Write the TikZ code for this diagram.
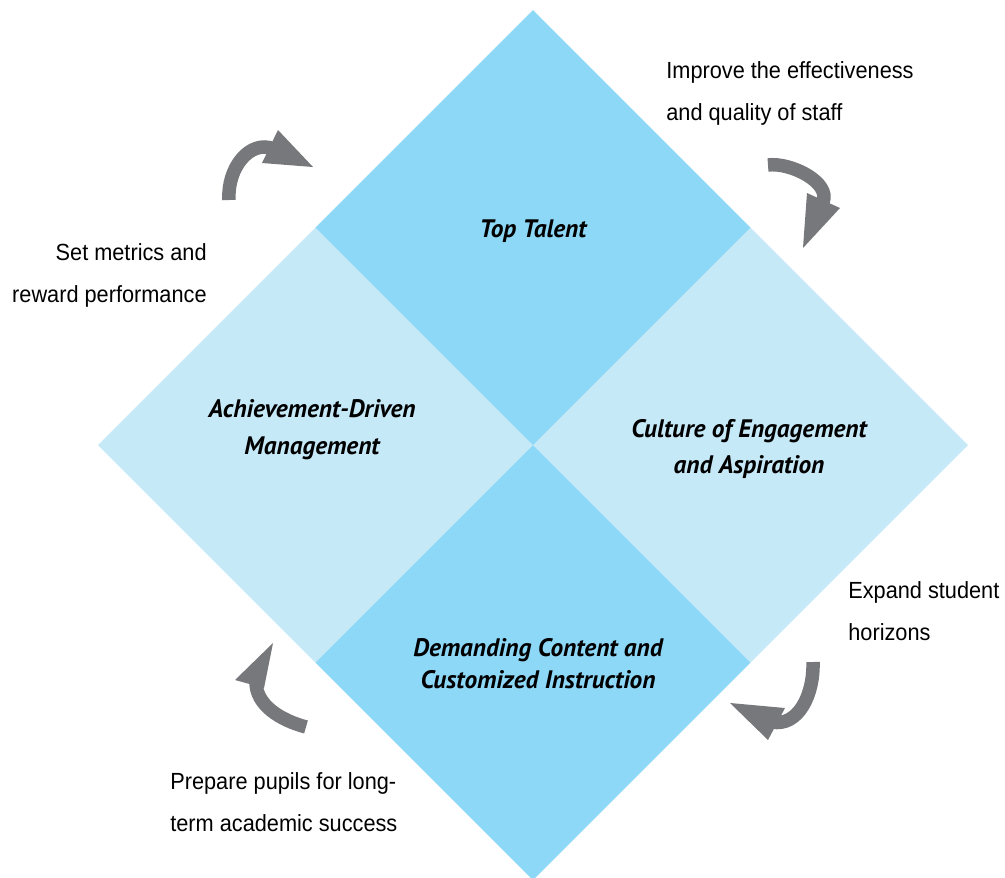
\documentclass[tikz,border=0pt]{standalone}
\usepackage{fontspec}
\newfontfamily\notefont[FakeStretch=0.93]{Liberation Sans}
\newfontfamily\blockfont{PT Sans}
\definecolor{deepsky}{HTML}{8DD7F7}
\definecolor{palesky}{HTML}{C6E9F8}
\definecolor{arrowgray}{HTML}{77787B}

\begin{document}
\begin{tikzpicture}[x=0.02cm,y=-0.02cm,block/.style={font=\blockfont\bfseries\itshape\fontsize{14.4}{#1}\selectfont,align=center,inner sep=0},block/.default=21,note/.style={font=\notefont\fontsize{13.3}{23.9}\selectfont,inner sep=0},shaft/.style={draw=arrowgray,line width=0.27cm},head/.style={fill=arrowgray}]
	\useasboundingbox (0,0) rectangle (1005,877);
	\coordinate (C) at (533,445);
	\coordinate (T) at (533,10);
	\coordinate (L) at (98,445);
	\coordinate (R) at (968,445);
	\coordinate (B) at (533,880);
	\coordinate (tl) at (315.5,227.5);
	\coordinate (tr) at (750.5,227.5);
	\coordinate (bl) at (315.5,662.5);
	\coordinate (br) at (750.5,662.5);

	\fill[palesky] (L) -- (tl) -- (C) -- (bl) -- cycle;
	\fill[palesky] (R) -- (tr) -- (C) -- (br) -- cycle;
	\fill[deepsky] (T) -- (tr) -- (C) -- (tl) -- cycle;
	\fill[deepsky] (B) -- (br) -- (C) -- (bl) -- cycle;

	\node[block] (talent) at (533,231) {Top Talent};
	\node[block] (management) at (312,430) {Achievement-Driven\\Management};
	\node[block] (culture) at (749,449) {Culture of Engagement\\and Aspiration};
	\node[block=18.2] (content) at (538,664) {Demanding Content and\\Customized Instruction};

	\node[note,anchor=west,align=left] (staff) at (666,93) {Improve the effectiveness\\and quality of staff};
	\node[note,anchor=east,align=right] (metrics) at (207,275) {Set metrics and\\reward performance};
	\node[note,anchor=west,align=left] (horizons) at (848,611) {Expand student\\horizons};
	\node[note,anchor=west,align=left] (pupils) at (170,802) {Prepare pupils for long-\\term academic success};

	\draw[shaft] (229,200) .. controls (227,168) and (250,139) .. (274,149);
	\fill[head] (278,130) -- (313,167) -- (262,163) -- cycle;
	\draw[shaft] (768,165) .. controls (790,162) and (831,182) .. (823,202);
	\fill[head] (807,193) -- (840,208) -- (803,248) -- cycle;
	\draw[shaft] (813,662) .. controls (814,695) and (798,727) .. (772,722);
	\fill[head] (730,703) -- (785,708) -- (768,740) -- cycle;
	\draw[shaft] (306,727) .. controls (280,720) and (256,705) .. (256,682);
	\fill[head] (273,643) -- (235,680) -- (264,688) -- cycle;
\end{tikzpicture}
\end{document}
